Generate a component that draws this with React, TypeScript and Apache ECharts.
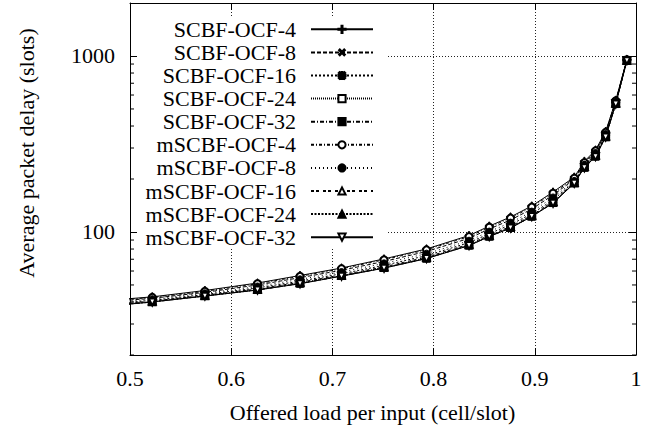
import React, { useEffect, useRef } from "react";
import * as echarts from "echarts";

// Offered load per input (x); the first point lies left of the visible range (line enters from the edge)
const LOADS = [0.47, 0.522, 0.574, 0.626, 0.668, 0.709, 0.751, 0.793, 0.835, 0.855, 0.876, 0.897, 0.918, 0.939, 0.949, 0.96, 0.97, 0.98, 0.991];

const SCBF_OCF_4 = [40.5, 42.8, 46.5, 51.3, 56.6, 62.4, 70.3, 80.1, 95.5, 108, 121.7, 140.5, 168.7, 205, 252, 292, 372, 560, 955];
const SCBF_OCF_8 = [39.8, 42.0, 45.4, 50.0, 55.0, 60.6, 68.0, 77.5, 92.0, 104, 117, 135, 162, 199, 245, 285, 364, 552, 950];
const SCBF_OCF_16 = [38.6, 40.9, 44.1, 48.1, 52.6, 57.9, 64.6, 73.4, 87.0, 97.8, 110, 127, 152, 193, 238, 277, 355, 543, 946];
const SCBF_OCF_24 = [37.9, 40.2, 43.4, 47.1, 51.3, 56.5, 62.8, 71.2, 84.4, 94.8, 106.2, 123.2, 147, 190, 234, 271, 348, 537, 944];
const SCBF_OCF_32 = [37.5, 40.0, 43.3, 46.8, 50.9, 56.2, 62.4, 70.7, 83.8, 94.3, 105.4, 122.5, 146, 190, 232, 268, 346, 533, 942];
const MSCBF_OCF_4 = [40.2, 42.5, 46.0, 50.8, 56.0, 61.8, 69.5, 79.2, 94.2, 106.5, 120, 138.5, 166, 202, 248, 289, 368, 556, 952];
const MSCBF_OCF_8 = [39.2, 41.5, 44.8, 49.0, 53.8, 59.2, 66.3, 75.3, 89.2, 100.5, 113, 130.5, 157, 195, 241, 281, 360, 548, 948];
const MSCBF_OCF_16 = [38.2, 40.5, 43.7, 47.5, 51.8, 57.0, 63.4, 72.0, 85.3, 95.8, 107.5, 124.5, 149, 191, 236, 274, 351, 540, 945];
const MSCBF_OCF_24 = [37.7, 40.1, 43.3, 46.9, 51.0, 56.3, 62.5, 70.9, 84.0, 94.4, 105.7, 122.7, 146.5, 190, 233, 270, 347, 535, 943];
const MSCBF_OCF_32 = [37.6, 40.0, 43.2, 46.8, 50.8, 56.1, 62.3, 70.6, 83.7, 94.2, 105.3, 122.4, 145.8, 189, 232, 268, 346, 533, 941];

const SERIES_NAMES = [
  "SCBF-OCF-4", "SCBF-OCF-8", "SCBF-OCF-16", "SCBF-OCF-24", "SCBF-OCF-32",
  "mSCBF-OCF-4", "mSCBF-OCF-8", "mSCBF-OCF-16", "mSCBF-OCF-24", "mSCBF-OCF-32",
];
const SERIES_VALUES = [
  SCBF_OCF_4, SCBF_OCF_8, SCBF_OCF_16, SCBF_OCF_24, SCBF_OCF_32,
  MSCBF_OCF_4, MSCBF_OCF_8, MSCBF_OCF_16, MSCBF_OCF_24, MSCBF_OCF_32,
];

const Y_MINOR_TICKS = [20, 30, 40, 50, 60, 70, 80, 90, 200, 300, 400, 500, 600, 700, 800, 900];

const X_TITLE = "Offered load per input (cell/slot)";
const Y_TITLE = "Average packet delay (slots)";

const FONT = "'Liberation Serif', 'Times New Roman', Times, serif";

const PLUS = "path://M4.3,0H5.7V4.3H10V5.7H5.7V10H4.3V5.7H0V4.3H4.3Z";
const STAR =
  "path://M4.3,0H5.7V10H4.3Z M0,4.3H10V5.7H0Z M0.5,1.5L1.5,0.5L9.5,8.5L8.5,9.5Z M8.5,0.5L9.5,1.5L1.5,9.5L0.5,8.5Z";

const STYLES: { dash: any; symbol: string; rotate?: number; size: number }[] = [
  { dash: "solid", symbol: PLUS, size: 8 },
  { dash: [4, 2], symbol: PLUS, rotate: 45, size: 8 },
  { dash: [2, 2], symbol: STAR, size: 8 },
  { dash: [1, 1], symbol: "emptyRect", size: 7 },
  { dash: [4, 2, 1, 2], symbol: "rect", size: 7 },
  { dash: [3, 2, 1, 2], symbol: "emptyCircle", size: 7 },
  { dash: [1, 3], symbol: "circle", size: 7 },
  { dash: [3, 2, 3, 4], symbol: "emptyTriangle", size: 7 },
  { dash: [2, 1.5], symbol: "triangle", size: 7 },
  { dash: "solid", symbol: "emptyTriangle", rotate: 180, size: 7 },
];

export default function App() {
  const ref = useRef<HTMLDivElement>(null);
  useEffect(() => {
    if (!ref.current) return;
    const chart = echarts.init(ref.current, undefined, { renderer: "svg" });

    const lineSeries = SERIES_NAMES.map((name, i) => ({
      name,
      type: "line",
      xAxisIndex: 0,
      yAxisIndex: 0,
      data: LOADS.map((x, j) => [x, SERIES_VALUES[i][j]]),
      symbol: STYLES[i].symbol,
      symbolSize: STYLES[i].size,
      symbolRotate: STYLES[i].rotate || 0,
      showAllSymbol: true,
      clip: true,
      z: 3,
      lineStyle: { color: "#000", width: 1, type: STYLES[i].dash },
      itemStyle: { color: "#000", borderColor: "#000", borderWidth: 1 },
      emphasis: { disabled: true },
    }));

    const legends = SERIES_NAMES.map((name, i) => ({
      data: [name],
      orient: "vertical",
      right: 283,
      top: 18.3 + i * 23.1,
      padding: 0,
      align: "right",
      itemWidth: 62,
      itemHeight: 9,
      selectedMode: false,
      textStyle: {
        fontFamily: FONT,
        fontSize: 22,
        lineHeight: 22,
        color: "#000",
        padding: [0, 10, 0, 0],
      },
    }));

    const axisCommonX = {
      type: "value",
      min: 0.5,
      max: 1,
      interval: 0.1,
    };
    const axisCommonY = {
      type: "log",
      logBase: 10,
      min: 20,
      max: 2000,
    };

    chart.setOption({
      animation: false,
      backgroundColor: "#fff",
      grid: { left: 130, right: 21, top: 3, bottom: 77, containLabel: false },
      legend: legends,
      xAxis: [
        {
          ...axisCommonX,
          position: "bottom",
          axisLine: { show: true, onZero: false, lineStyle: { color: "#000", width: 1 } },
          axisTick: { show: true, inside: true, length: 7, lineStyle: { color: "#000" } },
          axisLabel: { show: true, margin: 12, fontFamily: FONT, fontSize: 22, color: "#000" },
          splitLine: { show: true, lineStyle: { color: "#222", width: 1, type: [1, 2] } },
          name: X_TITLE,
          nameLocation: "middle",
          nameGap: 46,
          nameTextStyle: { fontFamily: FONT, fontSize: 22, color: "#000", padding: [0, 21, 0, 0] },
        },
        {
          ...axisCommonX,
          position: "top",
          axisLine: { show: true, onZero: false, lineStyle: { color: "#000", width: 1 } },
          axisTick: { show: true, inside: true, length: 7, lineStyle: { color: "#000" } },
          axisLabel: { show: false },
          splitLine: { show: false },
        },
      ],
      yAxis: [
        {
          ...axisCommonY,
          position: "left",
          axisLine: { show: true, onZero: false, lineStyle: { color: "#000", width: 1 } },
          axisTick: { show: true, inside: true, length: 7, lineStyle: { color: "#000" } },
          axisLabel: {
            show: true,
            margin: 15,
            fontFamily: FONT,
            fontSize: 22,
            color: "#000",
            showMinLabel: false,
            showMaxLabel: false,
            formatter: (v: number) => String(Math.round(v)),
          },
          splitLine: { show: true, lineStyle: { color: "#222", width: 1, type: [1, 2] } },
          minorTick: { show: false },
        },
        {
          ...axisCommonY,
          position: "right",
          axisLine: { show: true, onZero: false, lineStyle: { color: "#000", width: 1 } },
          axisTick: { show: true, inside: true, length: 7, lineStyle: { color: "#000" } },
          axisLabel: { show: false },
          splitLine: { show: false },
        },
      ],
      graphic: [
        {
          type: "rect",
          z: 1,
          silent: true,
          shape: { x: 139, y: 18, width: 247, height: 231 },
          style: { fill: "#fff" },
        },
        {
          type: "text",
          x: 26,
          y: 153,
          rotation: Math.PI / 2,
          silent: true,
          style: {
            text: Y_TITLE,
            fontFamily: FONT,
            fontSize: 22,
            fill: "#000",
            align: "center",
            verticalAlign: "middle",
          },
        },
      ],
      series: [
        ...lineSeries,
        {
          name: "minor-ticks",
          type: "custom",
          xAxisIndex: 0,
          yAxisIndex: 0,
          silent: true,
          z: 1,
          data: Y_MINOR_TICKS.map((v) => [0.5, v]),
          renderItem: (_params: any, api: any) => {
            const v = api.value(1);
            const l = api.coord([0.5, v]);
            const r = api.coord([1, v]);
            return {
              type: "group",
              children: [
                { type: "line", shape: { x1: l[0], y1: l[1], x2: l[0] + 4, y2: l[1] }, style: { stroke: "#000", lineWidth: 1 } },
                { type: "line", shape: { x1: r[0] - 4, y1: r[1], x2: r[0], y2: r[1] }, style: { stroke: "#000", lineWidth: 1 } },
              ],
            };
          },
        },
      ],
    });

    return () => chart.dispose();
  }, []);

  return (
    <div
      ref={ref}
      style={{ position: "fixed", left: 0, top: 0, width: 657, height: 432, background: "#fff" }}
    />
  );
}
